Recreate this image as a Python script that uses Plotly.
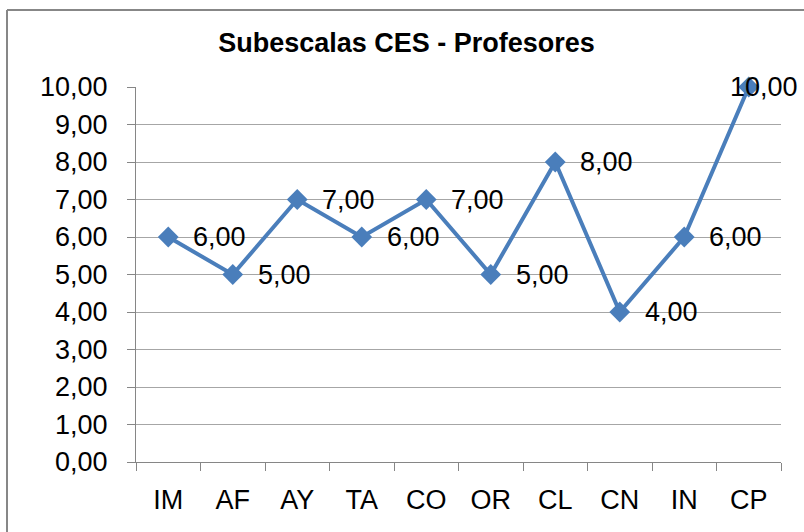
import plotly.graph_objects as go

categories = ["IM", "AF", "AY", "TA", "CO", "OR", "CL", "CN", "IN", "CP"]
values = [6, 5, 7, 6, 7, 5, 8, 4, 6, 10]
y_ticks = [0, 1, 2, 3, 4, 5, 6, 7, 8, 9, 10]
title_text = "Subescalas CES - Profesores"

FONT = "Liberation Sans, Arial, sans-serif"
BLUE = "#4A7EBB"
GRID = "#A6A6A6"
AXIS = "#868686"

fig = go.Figure()
fig.add_trace(go.Scatter(
    x=categories, y=values, mode="lines+markers",
    line=dict(color=BLUE, width=4),
    marker=dict(symbol="diamond", size=16, color=BLUE),
    cliponaxis=False, hoverinfo="skip", showlegend=False,
))

# data labels placed to the right of each point
for i, (c, v) in enumerate(zip(categories, values)):
    label = f"{v:.2f}".replace(".", ",")
    last = i == len(categories) - 1
    fig.add_annotation(
        x=c, y=v, text=label, showarrow=False,
        xanchor="left", yanchor="middle",
        xshift=-21 if last else 23,
        font=dict(family=FONT, size=27, color="black"),
    )

fig.update_layout(
    width=804, height=532, autosize=False,
    margin=dict(l=136, r=23, t=87, b=70, autoexpand=False),
    paper_bgcolor="white", plot_bgcolor="white",
    separators=",.",
    font=dict(family=FONT, size=27, color="black"),
    title=dict(text=f"<b>{title_text}</b>", x=406.5 / 804, xanchor="center",
               y=1 - 43 / 532, yanchor="middle",
               font=dict(family=FONT, size=27, color="black")),
)
fig.update_xaxes(
    type="category", range=[-0.5, len(categories) - 0.5],
    tickson="boundaries", ticks="outside", ticklen=8,
    tickcolor=AXIS, showline=True, linecolor=AXIS, linewidth=1,
    showgrid=False, ticklabelstandoff=14, automargin=False,
    tickfont=dict(family=FONT, size=27, color="black"),
)
fig.update_yaxes(
    range=[0, 10], tickvals=y_ticks, tickformat=".2f",
    ticks="outside", ticklen=8, tickcolor=AXIS,
    showline=True, linecolor=AXIS, linewidth=1,
    showgrid=True, gridcolor=GRID, gridwidth=1, zeroline=False,
    ticklabelstandoff=14, automargin=False,
    tickfont=dict(family=FONT, size=27, color="black"),
)

# outer chart frame (left and top edges)
fx = (7 - 136) / 645
fy = (462 - 10) / 375
fig.add_shape(type="line", xref="paper", yref="paper", x0=fx, x1=fx, y0=-0.5, y1=fy,
              line=dict(color="#878787", width=2))
fig.add_shape(type="line", xref="paper", yref="paper", x0=fx, x1=1.2, y0=fy, y1=fy,
              line=dict(color="#878787", width=2))

fig.write_html(
    "out.html",
    config={"displayModeBar": False},
    post_script="document.body.style.margin='0';document.body.style.overflow='hidden';",
)
